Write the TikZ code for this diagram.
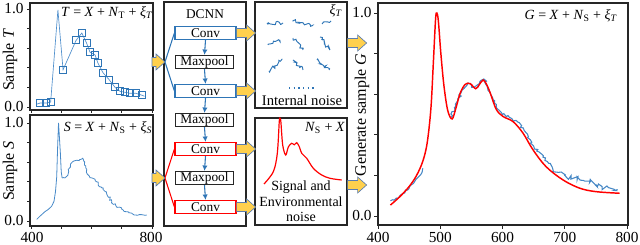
\documentclass[tikz,border=0pt]{standalone}
\usepackage{fontspec}
\setmainfont{Liberation Serif}
\usetikzlibrary{arrows.meta,decorations.pathmorphing,calc}
\definecolor{cblue}{HTML}{2E75B6}
\definecolor{lblue}{HTML}{4F8FCC}
\definecolor{cred}{HTML}{FF0000}
\definecolor{yfill}{HTML}{FFD04D}
\definecolor{yedge}{HTML}{5B7DB0}
\newcommand{\sbs}[1]{\textsubscript{#1}}
\begin{document}
\begin{tikzpicture}[x=0.75pt,y=-0.75pt,
  font=\fontsize{10}{12}\selectfont,
  frame/.style={draw=black!85, line width=0.9pt, inner sep=0pt},
  convb/.style={draw=cblue, line width=0.9pt, fill=white, inner sep=0pt,
                minimum width=61*0.75pt, minimum height=13*0.75pt},
  convr/.style={convb, draw=cred},
  mpool/.style={convb, draw=black!85, minimum width=58*0.75pt},
  flow/.style={cblue, line width=0.8pt, -{Latex[length=4pt,width=4pt]}},
  pics/yarrow/.style={code={
     \draw[fill=yfill, draw=yedge, line width=0.5pt, line join=miter]
       (0,-4.5) -- (#1-9,-4.5) -- (#1-9,-8) -- (#1,0) -- (#1-9,8) -- (#1-9,4.5) -- (0,4.5) -- cycle;}},
  ticklab/.style={font=\fontsize{11.5}{13}\selectfont, inner sep=0pt},
  axlab/.style={font=\fontsize{12}{14}\selectfont, rotate=90, inner sep=0pt},
  formula/.style={font=\fontsize{10.5}{12}\selectfont, inner sep=0pt},
  tickl/.style={black!85, line width=0.6pt},
  noisy/.style={decorate, decoration={random steps, segment length=1.4pt, amplitude=0.55pt}},
  noisys/.style={decorate, decoration={random steps, segment length=1.2pt, amplitude=0.85pt}},
  noisymid/.style={decorate, decoration={random steps, segment length=1.6pt, amplitude=1.1pt}},
  noisybig/.style={decorate, decoration={random steps, segment length=1.8pt, amplitude=2.6pt}},
  squig/.style={decorate, decoration={random steps, segment length=1.1pt, amplitude=1.3pt}},
  sqm/.style={draw=cblue, line width=0.8pt, minimum size=7*0.75pt, inner sep=0pt}
]
\pgfmathsetseed{7}
\useasboundingbox (0,0) rectangle (640,245);

% ---------------- left panels ----------------
\node[frame, minimum width=123*0.75pt, minimum height=107*0.75pt] (pT) at (91.5,56.5) {};
\node[frame, minimum width=123*0.75pt, minimum height=111*0.75pt] (pS) at (91.5,170.5) {};

\foreach \k in {0,...,5} {
  \draw[tickl] (30,{107-19.6*\k}) -- (27,{107-19.6*\k});
  \draw[tickl] (30,{221-19.6*\k}) -- (27,{221-19.6*\k});
}
\foreach \k in {0,...,4} {
  \draw[tickl] ({31+30.25*\k},110) -- ({31+30.25*\k},113);
  \draw[tickl] ({31+30.25*\k},226) -- ({31+30.25*\k},229);
}
\node[ticklab] (t1) at (14,9) {1.0};
\node[ticklab] (t0) at (14,107) {0.0};
\node[ticklab] (s1) at (14,123) {1.0};
\node[ticklab] (s0) at (14,221) {0.0};
\node[ticklab] (sx4) at (32,237) {400};
\node[ticklab] (sx8) at (151,237) {800};
\node[axlab] (lT) at (10,60) {Sample \textit{T}};
\node[axlab] (lS) at (10,171) {Sample \textit{S}};
\node[formula] (fT) at (107,13) {\textit{T} = \textit{X} + \textit{N}\sbs{T} + \textit{ξ}\sbs{\textit{T}}};
\node[formula] (fS) at (108,128) {\textit{S} = \textit{X} + \textit{N}\sbs{S} + \textit{ξ}\sbs{\textit{S}}};

% T curve
\begin{scope}[shift={(-90,107)}]
\begin{scope}[x=0.226875pt, y=73.5pt]
  \draw[lblue, line width=0.5pt] (420,0.03) -- (430,0.04) -- (450,0.04) -- (465,0.05) -- (489,0.99)
    -- (506,0.38) -- (549,0.68) -- (568,0.755) -- (584,0.65) -- (595,0.56) -- (612,0.53)
    -- (621,0.45) -- (638,0.35) -- (658,0.28) -- (678,0.20) -- (694,0.16) -- (711,0.15)
    -- (727,0.14) -- (747,0.14) -- (767,0.12) -- (775,0.11);
  \foreach \w/\i [count=\n] in {430/0.04,450/0.04,465/0.05,506/0.38,549/0.68,568/0.755,584/0.65,
      595/0.56,612/0.53,621/0.45,638/0.35,658/0.28,678/0.20,694/0.16,711/0.15,727/0.14,747/0.14,767/0.12}
    \node[sqm] (sq\n) at (\w,\i) {};
\end{scope}
\end{scope}

% S curve
\begin{scope}[shift={(-90,221)}]
\begin{scope}[x=0.226875pt, y=73.5pt]
  \draw[lblue!80!cblue, line width=0.6pt] (419,0.017) -- (430,0.05) -- (446,0.095) -- (458,0.12)
    -- (468,0.15) -- (476,0.2) -- (481,0.3) -- (485,0.45) -- (488,0.75) -- (491,1.0) -- (494,0.85)
    -- (497,0.7) -- (500,0.5) -- (503,0.44);
  \draw[lblue!80!cblue, line width=0.6pt, noisys] (503,0.44) -- (512,0.44) -- (518,0.455) -- (523,0.485) -- (530,0.56)
    -- (536,0.6) -- (545,0.615) -- (551,0.62) -- (560,0.625) -- (566,0.63) -- (571,0.64) -- (577,0.57)
    -- (583,0.5) -- (589,0.47) -- (600,0.44) -- (617,0.40) -- (633,0.34) -- (650,0.28) -- (667,0.2)
    -- (683,0.145) -- (700,0.12) -- (716,0.095) -- (733,0.08) -- (749,0.06) -- (765,0.065) -- (782,0.06);
\end{scope}
\end{scope}

% ---------------- DCNN ----------------
\node[frame, minimum width=82*0.75pt, minimum height=224*0.75pt] (dcnn) at (205,114) {};
\node (dlab) at (205,14) {DCNN};
\node[convb] (c1) at (205.5,33) {Conv};
\node[mpool] (m1) at (204.5,62) {Maxpool};
\node[convb] (c2) at (205.5,91) {Conv};
\node[mpool] (m2) at (204.5,120) {Maxpool};
\node[convr] (c3) at (205.5,149) {Conv};
\node[mpool] (m3) at (204.5,178) {Maxpool};
\node[convr] (c4) at (205.5,207) {Conv};
\draw[flow] (c1.south) -- (m1.north);
\draw[flow] (m1.south) -- (c2.north);
\draw[flow] (c2.south) -- (m2.north);
\draw[flow] (m2.south) -- (c3.north);
\draw[flow] (c3.south) -- (m3.north);
\draw[flow] (m3.south) -- (c4.north);

\coordinate (fanT) at (165,62);
\coordinate (fanS) at (165,178);
\draw[cblue, line width=0.8pt] (c1.west) -- (fanT) -- (c2.west);
\draw[cred, line width=0.8pt] (c3.west) -- (fanS) -- (c4.west);

\pic at ($(fanT)+(-13,0)$) {yarrow=13};
\pic at ($(fanS)+(-13,0)$) {yarrow=13};

% ---------------- noise boxes ----------------
\node[frame, minimum width=92*0.75pt, minimum height=106*0.75pt] (nbox) at (301,55) {};
\node[frame, minimum width=92*0.75pt, minimum height=107*0.75pt] (sbox) at (301,171.5) {};

\pic at (c1.east) {yarrow=19};
\pic at (c2.east) {yarrow=19};
\pic at (c3.east) {yarrow=19};
\pic at (c4.east) {yarrow=19};

\node[formula] (xiT) at (336,11) {\textit{ξ}\sbs{\textit{T}}};
\begin{scope}[cblue, line width=0.7pt]
  \draw[squig] (267,23) -- (283,23);
  \draw[squig] (293,20) -- (312,26);
  \draw[squig] (322,24) -- (331,21);
  \draw[squig] (268,45) -- (280,40);
  \draw[squig] (293,38) -- (303,50);
  \draw[squig] (320,37) -- (330,50);
  \draw[squig] (269,71) -- (282,60);
  \draw[squig] (293,60) -- (303,70);
  \draw[squig] (317,60) -- (329,70);
\end{scope}
\coordinate (dotA) at (289,88);
\coordinate (dotB) at (314,88);
\draw[cblue, line width=1.1pt, dash pattern=on 1.1pt off 2.4pt] (dotA) -- (dotB);
\node[font=\fontsize{11}{13}\selectfont] (inl) at (302,100) {Internal noise};

\node[formula] (nsx) at (325,128) {\textit{N}\sbs{S} + \textit{X}};
\draw[cred, line width=0.9pt] plot[smooth, tension=0.55] coordinates {
  (264,184) (273.3,171.7) (277.3,153.3) (279.3,121) (280,119.5) (280.8,121) (282.7,145)
  (285.7,155) (288.3,147) (291.7,143.3) (294.3,144.8) (296.7,142.7) (299.3,146.7) (301.7,153.3)
  (306.7,158.3) (313.3,168.3) (321.7,175) (330,178.3) (341.7,180)};
\node[align=center, font=\fontsize{10.5}{11.6}\selectfont, inner sep=0pt] (sig) at (301,201.5)
  {Signal and\\Environmental\\noise};

% ---------------- right panel ----------------
\node[frame, minimum width=250*0.75pt, minimum height=222*0.75pt] (pG) at (503,114) {};
\pic at ($(nbox.east)+(0,-12)$) {yarrow=19};
\pic at ($(sbox.east)+(0,13.5)$) {yarrow=19};

\foreach \k in {0,...,5}
  \draw[tickl] (378,{216-40.6*\k}) -- (374,{216-40.6*\k});
\foreach \k/\lab in {0/400,1/500,2/600,3/700,4/800} {
  \draw[tickl] ({378+62.25*\k},225) -- ({378+62.25*\k},229);
  \node[ticklab] (gx\lab) at ({378+62.25*\k},237) {\lab};
}
\node[ticklab] (g1) at (362,13) {1.0};
\node[ticklab] (g0) at (362,216) {0.0};
\node[axlab] (lG) at (362,115) {Generate sample \textit{G}};
\node[formula] (fG) at (571,16) {\textit{G} = \textit{X} + \textit{N}\sbs{S} + \textit{ξ}\sbs{\textit{T}}};

\begin{scope}[shift={(129,216)}]
\begin{scope}[x=0.466875pt, y=152.25pt]
  \draw[lblue!70!cblue, line width=0.8pt, noisy] (420,0.075) -- (430,0.085) -- (440,0.11) -- (450,0.14)
    -- (460,0.175) -- (466,0.195) -- (470,0.21) -- (472,0.235);
  \draw[lblue!70!cblue, line width=0.8pt, noisymid] (517,0.485) -- (525,0.54) -- (535,0.62) -- (545,0.655)
    -- (555,0.632) -- (563,0.652) -- (570,0.675) -- (580,0.61) -- (590,0.535) -- (600,0.5)
    -- (615,0.48) -- (625,0.462) -- (635,0.42) -- (650,0.345) -- (665,0.29) -- (680,0.24);
  \draw[lblue!70!cblue, line width=0.8pt, noisybig] (680,0.24) -- (690,0.215) -- (700,0.2)
    -- (710,0.19) -- (720,0.18) -- (730,0.175) -- (740,0.165) -- (750,0.155) -- (760,0.145)
    -- (770,0.14) -- (785,0.13);
  \draw[cred, line width=1.1pt] plot[smooth, tension=0.55] coordinates {
    (420,0.054) (435,0.095) (450,0.145) (462,0.2) (472,0.27) (479,0.36) (485,0.53) (489,0.76)
    (492.5,0.97) (494.5,1.0) (497,0.96) (501,0.8) (506,0.64) (512,0.52) (519,0.478) (525,0.53)
    (532,0.605) (540,0.648) (548,0.652) (557,0.627) (563,0.648) (569,0.67) (575,0.645) (581,0.6)
    (590,0.525) (601,0.49) (617,0.465) (633,0.408) (649,0.326) (670,0.243) (697,0.178)
    (724,0.137) (750,0.12) (788,0.112)};
\end{scope}
\end{scope}
\end{tikzpicture}
\end{document}
